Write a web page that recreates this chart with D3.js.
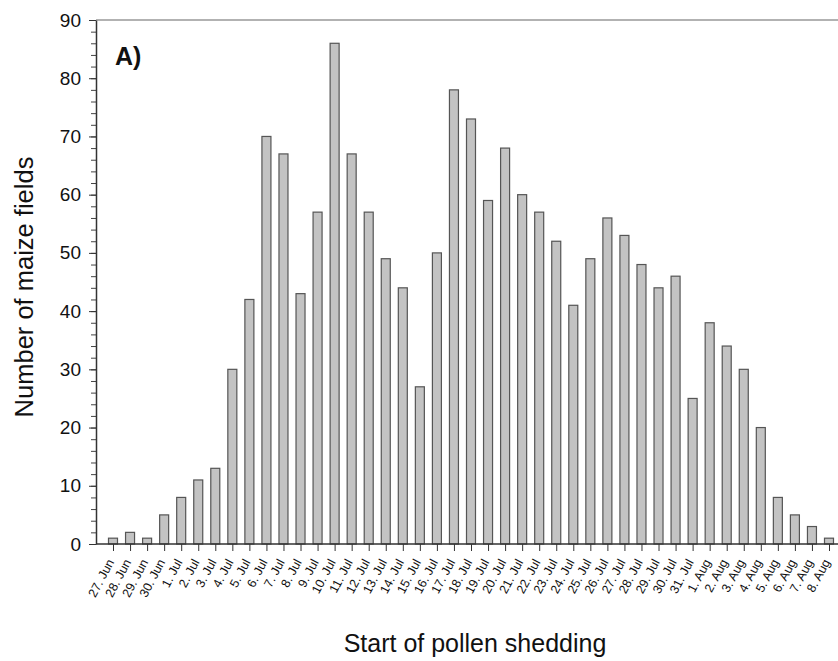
<!DOCTYPE html>
<html>
<head>
<meta charset="utf-8">
<script src="https://cdn.jsdelivr.net/npm/d3@7"></script>
<style>
  body { margin: 0; background: #fff; }
  text { font-family: "Liberation Sans", Arial, sans-serif; }
</style>
</head>
<body>
<script>
// start day of pollen shedding, 27 Jun .. 8 Aug
const days = [
  '27. Jun', '28. Jun', '29. Jun', '30. Jun',
  '1. Jul', '2. Jul', '3. Jul', '4. Jul', '5. Jul', '6. Jul', '7. Jul', '8. Jul', '9. Jul', '10. Jul',
  '11. Jul', '12. Jul', '13. Jul', '14. Jul', '15. Jul', '16. Jul', '17. Jul', '18. Jul', '19. Jul', '20. Jul',
  '21. Jul', '22. Jul', '23. Jul', '24. Jul', '25. Jul', '26. Jul', '27. Jul', '28. Jul', '29. Jul', '30. Jul', '31. Jul',
  '1. Aug', '2. Aug', '3. Aug', '4. Aug', '5. Aug', '6. Aug', '7. Aug', '8. Aug'
]
const fields = [
  1, 2, 1, 5,
  8, 11, 13, 30, 42, 70, 67, 43, 57, 86,
  67, 57, 49, 44, 27, 50, 78, 73, 59, 68,
  60, 57, 52, 41, 49, 56, 53, 48, 44, 46, 25,
  38, 34, 30, 20, 8, 5, 3, 1
]
const yTicks = [0, 10, 20, 30, 40, 50, 60, 70, 80, 90]

const width = 838, height = 661
const mLeft = 96, mTop = 20, mBottom = 544

const svg = d3.select('body').append('svg')
  .attr('width', width).attr('height', height)

const x = d3.scalePoint().domain(days).range([113, 829])
const y = d3.scaleLinear().domain([0, 90]).range([mBottom, mTop])
const barW = 9

// top frame line
svg.append('line')
  .attr('x1', mLeft).attr('x2', width)
  .attr('y1', mTop).attr('y2', mTop)
  .attr('stroke', '#999').attr('stroke-width', 1.5)

svg.selectAll('rect.bar')
  .data(fields)
  .enter()
  .append('rect')
  .attr('class', 'bar')
  .attr('x', (d, i) => x(days[i]) - barW / 2)
  .attr('y', d => y(d))
  .attr('width', barW)
  .attr('height', d => mBottom - y(d))
  .attr('fill', '#c3c3c3')
  .attr('stroke', '#555')
  .attr('stroke-width', 1.2)

// minor y ticks
svg.append('g')
  .attr('transform', `translate(${mLeft},0)`)
  .call(d3.axisLeft(y).tickValues(d3.range(0, 91, 2)).tickSize(5).tickFormat(''))
  .call(g => g.select('.domain').remove())
  .selectAll('line').attr('stroke', '#444')

const yAxis = svg.append('g')
  .attr('transform', `translate(${mLeft},0)`)
  .call(d3.axisLeft(y).tickValues(yTicks).tickSize(7).tickPadding(8).tickSizeOuter(0))
yAxis.select('.domain').attr('stroke', '#333').attr('stroke-width', 1.5)
yAxis.selectAll('line').attr('stroke', '#333')
yAxis.selectAll('text').attr('font-size', 19).attr('fill', '#111')
  .attr('font-family', '"Liberation Sans", Arial, sans-serif')

const xAxis = svg.append('g')
  .attr('transform', `translate(0,${mBottom})`)
  .call(d3.axisBottom(x).tickSize(7).tickSizeOuter(0))
xAxis.select('.domain').attr('d', `M${mLeft},0H${width}`).attr('stroke', '#333').attr('stroke-width', 1.5)
xAxis.selectAll('line').attr('stroke', '#333')
xAxis.selectAll('text')
  .attr('font-size', 12.5)
  .attr('fill', '#111')
  .attr('font-family', '"Liberation Sans", Arial, sans-serif')
  .attr('text-anchor', 'end')
  .attr('dy', 0)
  .attr('y', 0)
  .attr('transform', 'translate(1,18) rotate(-62)')

svg.append('text')
  .attr('x', 475).attr('y', 652)
  .attr('text-anchor', 'middle')
  .attr('font-size', 25)
  .attr('fill', '#111')
  .text('Start of pollen shedding')

svg.append('text')
  .attr('transform', `translate(33,287) rotate(-90)`)
  .attr('text-anchor', 'middle')
  .attr('font-size', 25.5)
  .attr('fill', '#111')
  .text('Number of maize fields')

svg.append('text')
  .attr('x', 115).attr('y', 65)
  .attr('font-size', 25)
  .attr('font-weight', 'bold')
  .attr('fill', '#111')
  .text('A)')
</script>
</body>
</html>
